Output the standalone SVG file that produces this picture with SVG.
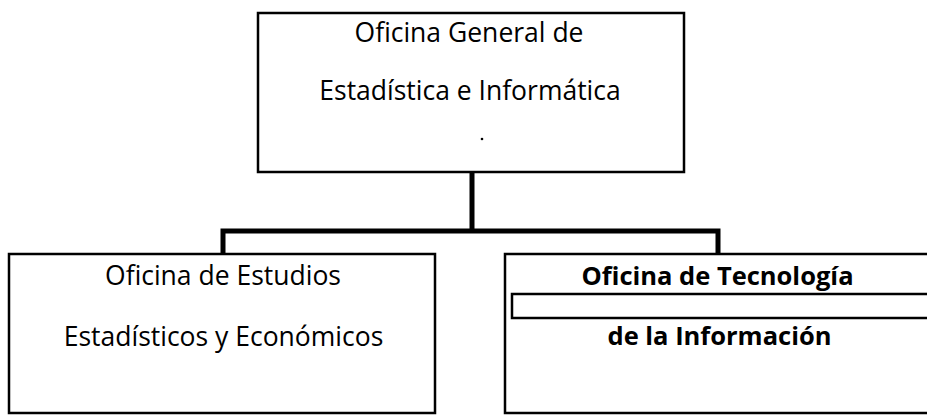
<svg xmlns="http://www.w3.org/2000/svg" width="927" height="416" viewBox="0 0 927 416">
<style>
.box{fill:#fff;stroke:#000;stroke-width:2.5}
.t{font-family:"Open Sans","Liberation Sans",sans-serif;font-size:26.5px;fill:#000;text-anchor:middle}
.b{font-weight:bold;font-size:25.5px}
.c{fill:none;stroke:#000;stroke-width:5;stroke-linecap:square}
</style>
<rect width="927" height="416" fill="#fff"/>
<g id="connectors">
<path class="c" d="M472 173 V231 M223 253 V231 H718 V253"/>
</g>
<g id="node-top">
<rect class="box" x="258" y="13" width="426" height="159"/>
<text class="t" x="469" y="42">Oficina General de</text>
<text class="t" x="470" y="100">Estadística e Informática</text>
<circle cx="482" cy="139" r="1.3" fill="#000"/>
</g>
<g id="node-left">
<rect class="box" x="9" y="254" width="426" height="159"/>
<text class="t" x="223" y="285">Oficina de Estudios</text>
<text class="t" x="223.5" y="346">Estadísticos y Económicos</text>
</g>
<g id="node-right">
<rect class="box" x="505" y="254" width="430" height="159"/>
<rect class="box" x="512" y="294" width="420" height="24"/>
<text class="t b" x="717.5" y="285">Oficina de Tecnología</text>
<text class="t b" x="719.5" y="345">de la Información</text>
</g>
</svg>
